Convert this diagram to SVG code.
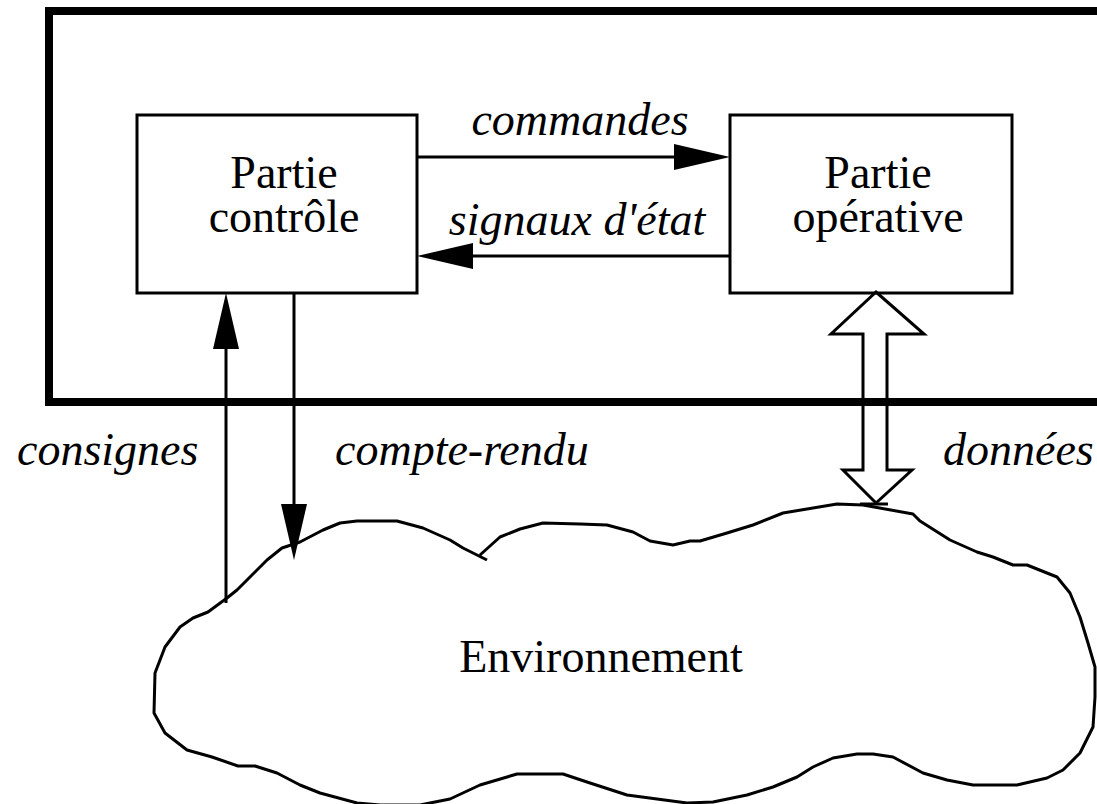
<svg xmlns="http://www.w3.org/2000/svg" width="1097" height="804" viewBox="0 0 1097 804">
<style>
.box{fill:none;stroke:#000;stroke-width:3}
.ln{fill:none;stroke:#000;stroke-width:3}
.t{font-family:"Liberation Serif","Times New Roman",serif;font-size:46px;fill:#000}
.i{font-style:italic}
</style>
<defs>
<marker id="ah" markerUnits="userSpaceOnUse" markerWidth="60" markerHeight="30" refX="46" refY="13" orient="auto">
<path d="M0,0 L56,13 L0,26 z" fill="#000"/>
</marker>
</defs>
<rect width="1097" height="804" fill="#fff"/>
<g id="systeme">
<rect x="49" y="11" width="1070" height="391" fill="none" stroke="#000" stroke-width="8"/>
</g>
<g id="partie-controle">
<rect class="box" x="137" y="115" width="280" height="178"/>
<text class="t" x="284" y="188" text-anchor="middle">Partie</text>
<text class="t" x="284" y="232" text-anchor="middle">contrôle</text>
</g>
<g id="partie-operative">
<rect class="box" x="730" y="115" width="282" height="178"/>
<text class="t" x="878" y="188" text-anchor="middle">Partie</text>
<text class="t" x="878" y="232" text-anchor="middle">opérative</text>
</g>
<g id="environnement">
<path class="ln" stroke-linejoin="round" d="M480,555 L500,537 L520,529 L543,523 L580,524 L607,525 L633,532 L650,541 L673,545 L690,541 L700,541 L727,533 L753,525 L783,513 L837,504 L863,505 L913,514 L920,521 L950,540 L977,552 L993,557 L1013,565 L1027,565 L1057,577 L1070,593 L1080,617 L1088,643 L1095,667 L1095,697 L1093,727 L1080,753 L1063,770 L1047,778 L1017,785 L973,785 L947,780 L923,773 L893,757 L873,754 L857,754 L833,758 L813,767 L797,777 L773,787 L747,795 L713,802 L687,803 L627,795 L590,783 L563,774 L517,774 L480,785 L450,799 L420,805 L380,805 L357,803 L320,793 L300,785 L277,773 L255,766 L238,766 L212,757 L187,750 L165,733 L154,713 L155,673 L165,647 L180,627 L193,618 L208,612 L227,598 L237,590 L250,577 L267,560 L282,548 L300,542 L323,530 L340,523 L357,521 L397,521 L423,528 L450,540 L463,548 L487,560"/>
<line class="ln" x1="860" y1="504" x2="888" y2="504"/>
<text class="t" x="601" y="672" text-anchor="middle">Environnement</text>
</g>
<g id="connecteurs">
<line class="ln" x1="417" y1="157" x2="720" y2="157" marker-end="url(#ah)"/>
<text class="t i" x="580" y="135" text-anchor="middle">commandes</text>
<line class="ln" x1="730" y1="256" x2="427" y2="256" marker-end="url(#ah)"/>
<text class="t i" x="577" y="235" text-anchor="middle">signaux d'état</text>
<line class="ln" x1="226" y1="603" x2="226" y2="303" marker-end="url(#ah)"/>
<text class="t i" x="17" y="465">consignes</text>
<line class="ln" x1="294" y1="293" x2="294" y2="550" marker-end="url(#ah)"/>
<text class="t i" x="335" y="465">compte-rendu</text>
<path class="ln" stroke-linejoin="miter" d="M876,292 L924,334 L887,334 L887,470 L912,470 L876,503 L843,470 L863,470 L863,334 L831,334 Z"/>
<text class="t i" x="943" y="465">données</text>
</g>
</svg>
